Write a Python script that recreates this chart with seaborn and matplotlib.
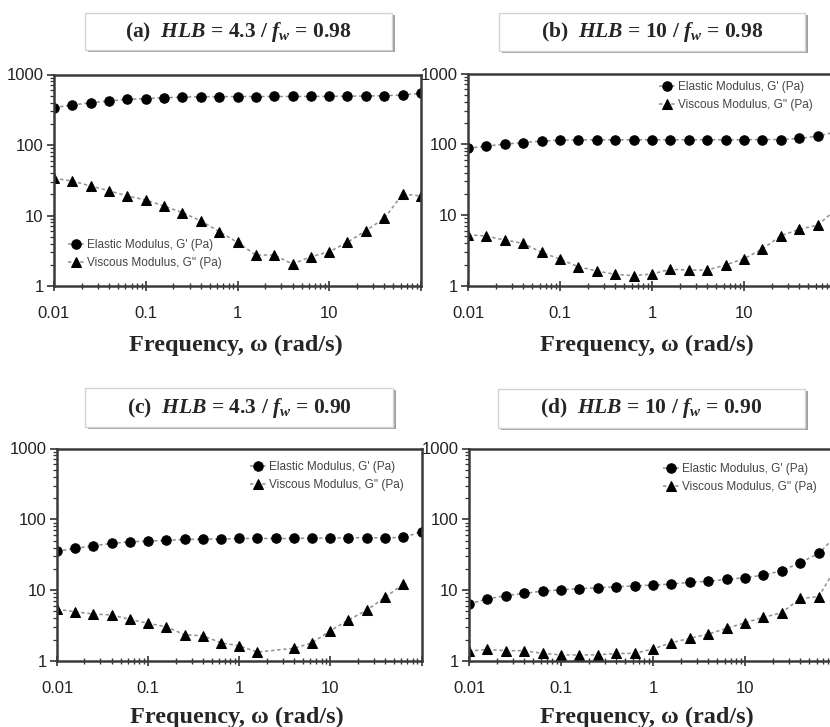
import numpy as np
import pandas as pd
import matplotlib
matplotlib.use("Agg")
import matplotlib.pyplot as plt
from matplotlib.patches import Rectangle
from matplotlib.ticker import LogLocator, NullFormatter
import seaborn as sns

# Frequency sweep (rad/s), 5 points per decade
freq = [0.01, 0.0158, 0.0251, 0.0398, 0.0631, 0.1, 0.158, 0.251, 0.398, 0.631,
        1.0, 1.58, 2.51, 3.98, 6.31, 10.0, 15.8, 25.1, 39.8, 63.1, 100.0]

# (a) HLB = 4.3 / fw = 0.98
a_elastic = [340, 369, 398, 421, 445, 454, 469, 476, 485, 485, 487,
             487, 488, 488, 489, 490, 492, 495, 500, 512, 541]
a_viscous = [33.7, 30.9, 26.2, 22.5, 18.9, 16.6, 13.6, 11.0, 8.4, 5.9, 4.17,
             2.75, 2.75, 2.05, 2.6, 3.07, 4.17, 6.1, 9.1, 20.2, 18.9]

# (b) HLB = 10 / fw = 0.98
b_elastic = [88, 94.4, 100.7, 106, 111, 114.6, 115.8, 115.8, 115.8, 116, 116,
             116, 116, 116, 116, 116, 117, 117, 121, 130.5, 150]
b_viscous = [5.3, 5.07, 4.46, 4.0, 2.98, 2.40, 1.87, 1.63, 1.46, 1.40, 1.48,
             1.72, 1.68, 1.68, 1.98, 2.43, 3.32, 5.12, 6.3, 7.25, 12]

# (c) HLB = 4.3 / fw = 0.90
c_elastic = [35.6, 38.8, 42.3, 45.7, 48.2, 49.3, 50.4, 52.0, 52.6, 52.6, 53.7,
             53.7, 53.7, 53.7, 54.3, 54.3, 54.9, 54.9, 54.9, 55.5, 66.7]
c_viscous = [5.36, 4.96, 4.6, 4.46, 3.87, 3.4, 3.05, 2.35, 2.27, 1.81, 1.63,
             1.34, np.nan, 1.51, 1.81, 2.68, 3.79, 5.24, 7.9, 12.2, np.nan]

# (d) HLB = 10 / fw = 0.90
d_elastic = [6.4, 7.5, 8.4, 9.0, 9.7, 10.1, 10.5, 10.8, 11.2, 11.5, 11.8,
             12.2, 12.9, 13.4, 14.2, 15.0, 16.3, 18.8, 24.4, 33.0, 60]
d_viscous = [1.38, 1.46, 1.40, 1.40, 1.28, 1.22, 1.22, 1.22, 1.28, 1.28, 1.48,
             1.81, 2.09, 2.40, 2.89, 3.47, 4.13, 4.8, 7.66, 8.07, 22]

titles = [r"(a)  $HLB$ = 4.3 / $f_w$ = 0.98",
          r"(b)  $HLB$ = 10 / $f_w$ = 0.98",
          r"(c)  $HLB$ = 4.3 / $f_w$ = 0.90",
          r"(d)  $HLB$ = 10 / $f_w$ = 0.90"]
series = [(a_elastic, a_viscous), (b_elastic, b_viscous),
          (c_elastic, c_viscous), (d_elastic, d_viscous)]

x_ticks = [0.01, 0.1, 1, 10, 100]
x_ticklabels = ["0.01", "0.1", "1", "10", ""]
y_ticks = [1, 10, 100, 1000]
y_ticklabels = ["1", "10", "100", "1000"]

# -----------------------------
# Style
# -----------------------------
sns.set_style("ticks")
plt.rcParams["font.family"] = ["Liberation Sans Narrow", "Liberation Sans", "DejaVu Sans"]
plt.rcParams["mathtext.fontset"] = "custom"
plt.rcParams["mathtext.rm"] = "Liberation Serif:bold"
plt.rcParams["mathtext.bf"] = "Liberation Serif:bold"
plt.rcParams["mathtext.it"] = "Liberation Serif:italic:bold"

W, H = 830, 727
fig = plt.figure(figsize=(W / 100, H / 100), dpi=100)
fig.patch.set_facecolor("white")

# pixel layout: axes box (left, right, top, bottom), title box, label centre, legend anchor
layout = [
    dict(ax=(54, 421, 74.5, 286), box=(85, 392, 13, 50), lab=(236, 345),
         leg=("upper left", 68, 239)),
    dict(ax=(468, 836, 73.5, 286), box=(499, 805, 13, 51), lab=(647, 345),
         leg=("upper right", 813, 81)),
    dict(ax=(57, 421.5, 448.5, 661), box=(85, 393, 388, 427), lab=(237, 717),
         leg=("upper right", 404, 461)),
    dict(ax=(469, 837, 448.5, 661), box=(498, 805, 389, 428), lab=(647, 717),
         leg=("upper right", 817, 463)),
]

line_kw = dict(color="#8f8f8f", linewidth=1.1, linestyle=(0, (2.2, 1.8)),
               mfc="black", mec="black", errorbar=None)


def fx(x):
    return x / W


def fy(y):
    return 1 - y / H


for (el, vi), title, lay in zip(series, titles, layout):
    l, r, t, b = lay["ax"]
    ax = fig.add_axes([fx(l), fy(b), (r - l) / W, (b - t) / H])

    df = pd.DataFrame({"freq": freq, "elastic": el, "viscous": vi})
    sns.lineplot(data=df.dropna(subset=["elastic"]), x="freq", y="elastic", ax=ax,
                 marker="o", markersize=6.8, label="Elastic Modulus, G' (Pa)", **line_kw)
    sns.lineplot(data=df.dropna(subset=["viscous"]), x="freq", y="viscous", ax=ax,
                 marker="^", markersize=6.8, label="Viscous Modulus, G'' (Pa)", **line_kw)

    ax.set(xscale="log", yscale="log", xlim=(0.01, 100), ylim=(1, 1000),
           xlabel="", ylabel="")
    ax.set_xticks(x_ticks)
    ax.set_xticklabels(x_ticklabels)
    ax.set_yticks(y_ticks)
    ax.set_yticklabels(y_ticklabels)
    ax.xaxis.set_minor_locator(LogLocator(subs=np.arange(2, 10)))
    ax.yaxis.set_minor_locator(LogLocator(subs=np.arange(2, 10)))
    ax.xaxis.set_minor_formatter(NullFormatter())
    ax.yaxis.set_minor_formatter(NullFormatter())

    ax.tick_params(axis="x", which="major", direction="inout", length=7, width=1.2,
                   pad=11, labelsize=12, labelcolor="#222222", color="#333333")
    ax.tick_params(axis="x", which="minor", direction="inout", length=4, width=1.0,
                   color="#333333")
    ax.tick_params(axis="y", which="major", direction="out", length=5, width=1.2,
                   pad=2.5, labelsize=12, labelcolor="#222222", color="#333333")
    ax.tick_params(axis="y", which="minor", direction="out", length=3, width=0.9,
                   color="#333333")
    for sp in ax.spines.values():
        sp.set_visible(True)
        sp.set_linewidth(1.8)
        sp.set_color("#3a3a3a")
    ax.set_facecolor("white")

    loc, lx, ly = lay["leg"]
    ax.legend(loc=loc, bbox_to_anchor=(fx(lx), fy(ly)), bbox_transform=fig.transFigure,
              frameon=False, fontsize=8.5, handlelength=1.4, handletextpad=0.25,
              labelspacing=0.55, borderpad=0, borderaxespad=0, labelcolor="#444444")

    # title box with shadow
    bl, br, bt, bb = lay["box"]
    fig.add_artist(Rectangle((fx(bl + 3), fy(bb + 2)), (br - bl) / W, (bb - bt) / H,
                             transform=fig.transFigure, facecolor="#a0a0a0",
                             edgecolor="none", zorder=1))
    fig.add_artist(Rectangle((fx(bl), fy(bb)), (br - bl) / W, (bb - bt) / H,
                             transform=fig.transFigure, facecolor="white",
                             edgecolor="#d4d4d4", linewidth=1.0, zorder=2))
    fig.text(fx((bl + br) / 2), fy((bt + bb) / 2), title, ha="center", va="center",
             fontsize=15.5, fontweight="bold", family="Liberation Serif", zorder=3)

    cx, cy = lay["lab"]
    fig.text(fx(cx), fy(cy), "Frequency, \u03c9 (rad/s)", ha="center", va="center",
             fontsize=17.5, fontweight="bold", family="Liberation Serif")

fig.savefig("out.png", dpi=100)
